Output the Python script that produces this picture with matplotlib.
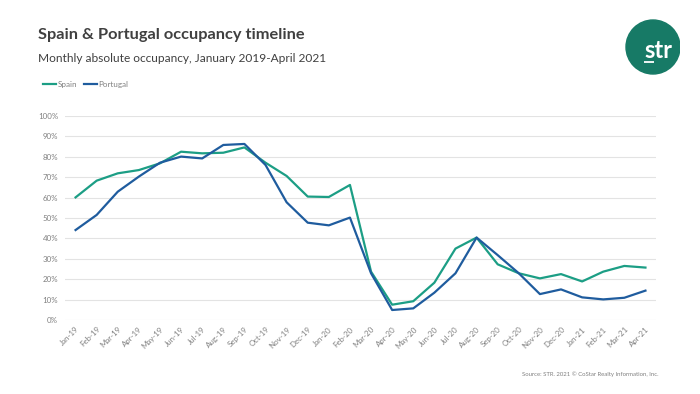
import matplotlib
matplotlib.use("Agg")
import matplotlib.pyplot as plt
from matplotlib.patches import Circle

# data (occupancy, %)
months = ["Jan-19", "Feb-19", "Mar-19", "Apr-19", "May-19", "Jun-19", "Jul-19",
          "Aug-19", "Sep-19", "Oct-19", "Nov-19", "Dec-19", "Jan-20", "Feb-20",
          "Mar-20", "Apr-20", "May-20", "Jun-20", "Jul-20", "Aug-20", "Sep-20",
          "Oct-20", "Nov-20", "Dec-20", "Jan-21", "Feb-21", "Mar-21", "Apr-21"]
spain = [60.1, 68.3, 71.9, 73.5, 76.8, 82.5, 81.7, 82.0, 84.6, 77.1, 70.6, 60.5,
         60.3, 66.2, 23.7, 7.5, 9.2, 18.3, 35.0, 40.4, 27.3, 22.9, 20.4, 22.5,
         18.9, 23.7, 26.5, 25.7]
portugal = [44.1, 51.5, 62.9, 70.3, 77.1, 80.1, 79.2, 85.8, 86.3, 76.0, 57.7, 47.7,
            46.4, 50.2, 22.9, 4.9, 5.7, 13.4, 22.9, 40.4, 31.8, 22.9, 12.7, 15.0,
            11.1, 10.1, 10.9, 14.4]
y_ticks = [0, 10, 20, 30, 40, 50, 60, 70, 80, 90, 100]

SPAIN_C = "#1c9e85"
PORT_C = "#1f5c9e"
TXT = "#404040"
GRAY = "#808080"

plt.rcParams['font.family'] = ['Lato', 'DejaVu Sans']

fig = plt.figure(figsize=(7, 3.94), dpi=100)
ax = fig.add_axes([65 / 700, 74 / 394, 591 / 700, 204 / 394])

x = list(range(len(months)))
ax.plot(x, spain, color=SPAIN_C, lw=1.6, label="Spain", solid_joinstyle="round")
ax.plot(x, portugal, color=PORT_C, lw=1.6, label="Portugal", solid_joinstyle="round")

ax.set_xlim(-0.5, len(months) - 0.5)
ax.set_ylim(0, 100)
ax.set_yticks(y_ticks)
ax.set_yticklabels([f"{v}%" for v in y_ticks])
ax.set_xticks(x)
ax.set_xticklabels(months, rotation=45, ha="right", rotation_mode="anchor")
ax.tick_params(axis="both", length=0, labelsize=5.7, colors=GRAY)
ax.tick_params(axis="y", pad=5)
ax.tick_params(axis="x", pad=4)
ax.grid(axis="y", color="#e3e3e3", lw=0.8)
ax.set_axisbelow(True)
for s in ax.spines.values():
    s.set_visible(False)

# titles
fig.text(38 / 700, 1 - 35 / 394, "Spain & Portugal occupancy timeline",
         fontsize=11.8, fontweight="bold", color=TXT, va="center", ha="left")
fig.text(38 / 700, 1 - 58 / 394, "Monthly absolute occupancy, January 2019-April 2021",
         fontsize=8.6, color=TXT, va="center", ha="left")

# legend
ax.legend(loc="upper left", bbox_to_anchor=(36 / 700, 1 - 74 / 394),
          bbox_transform=fig.transFigure, ncol=2, frameon=False, fontsize=5.8,
          handlelength=1.6, handletextpad=0.2, columnspacing=0.8,
          labelcolor=GRAY)

# logo
logo = fig.add_axes([620 / 700, 1 - 78 / 394, 60 / 700, 60 / 394])
logo.set_xlim(0, 60)
logo.set_ylim(0, 60)
logo.set_aspect("equal")
logo.axis("off")
logo.add_patch(Circle((33, 31), 27, color="#177a66"))
logo.text(38, 20, "str", color="white", fontsize=17, fontweight="bold",
          ha="center", va="baseline")
logo.plot([23.5, 34], [16, 16], color="white", lw=1.3, solid_capstyle="butt")

fig.text(658 / 700, 1 - 374 / 394, "Source: STR. 2021 © CoStar Realty Information, Inc.",
         fontsize=4.3, color=GRAY, ha="right", va="center")

fig.savefig("out.png", dpi=100)
